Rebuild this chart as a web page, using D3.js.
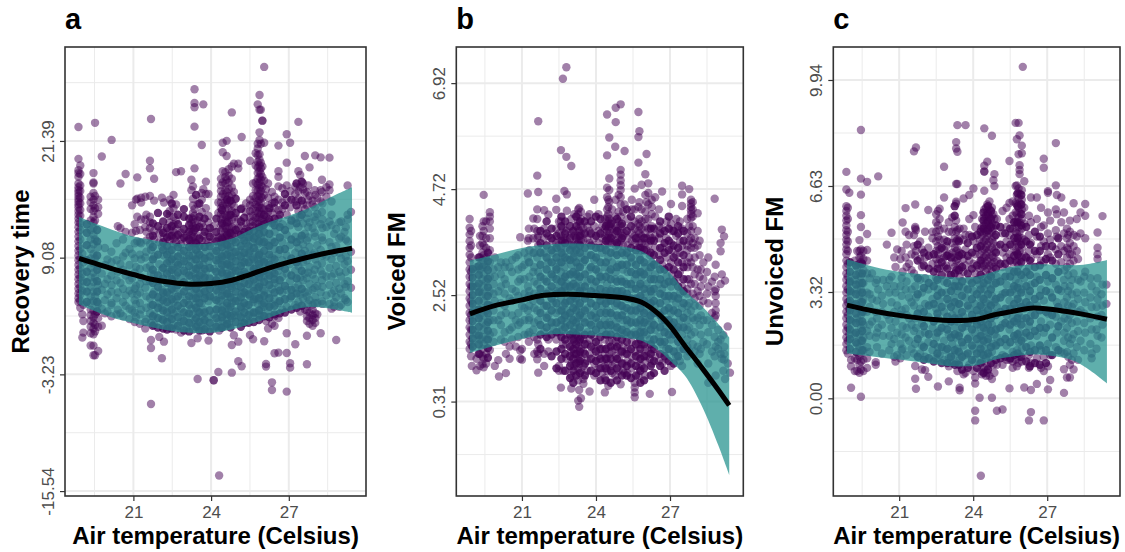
<!DOCTYPE html>
<html>
<head>
<meta charset="utf-8">
<script src="https://cdn.jsdelivr.net/npm/d3@7"></script>
<style>
    body { margin: 0; background: #fff; }
    text { font-family: "Liberation Sans", Arial, sans-serif; }
</style>
</head>
<body>
<svg id="chart" width="1125" height="552"></svg>
<script>
const xTicks = [21, 24, 27];
const xMinor = [19.5, 22.5, 25.5, 28.5];

// panel a: recovery time
const aTicks = [-15.54, -3.23, 9.08, 21.39];
const aMinor = [-9.385, 2.925, 15.235, 27.54];
const aRibbonX = [18.9, 19.5, 20.2, 21, 21.7, 22.5, 23.2, 24, 24.8, 25.5, 26.2, 27, 27.7, 28.5, 29.44];
const aUpper = [13.4, 12.7, 12.0, 11.3, 10.95, 10.6, 10.5, 10.6, 11.1, 12, 12.8, 13.5, 14.2, 15.3, 16.5];
const aMid = [9.0, 8.5, 7.9, 7.3, 6.8, 6.45, 6.28, 6.35, 6.7, 7.3, 7.95, 8.6, 9.1, 9.6, 10.08];
const aLower = [4.16, 3.45, 2.75, 2.2, 1.75, 1.35, 1.15, 1.15, 1.5, 2.05, 2.7, 3.45, 3.85, 3.75, 3.28];
const aPoints = [
    [18.88, [22.86, 19.5, 18.3, 18, 17.6, 16.9, 16.5, 16.2, 15.9, 15.6, 15.3, 15, 14.7, 14.4, 14, 13.6, 13.2, 12.8, 12.3, 11.8, 11.3, 10.8, 10.3, 9.8, 9.3, 8.8, 8.3, 7.8, 7.3, 6.8, 6.3, 5.8, 5.3, 4.8, 4.4]],
    [18.95, [18.8, 17.9, 16.7, 16.1, 15.4, 14.8, 14.1, 13.5, 12.7, 12, 11, 10, 9, 8, 7, 6, 5.2, 4.5, 3.8]],
    [19.03, [0.65, 3.1, 5.6, 7.4, 9.5]], [19.07, [1.17, 2.4, 4.1, 6.6, 8.6]],
    [19.35, [-0.18, 1.1, 1.8, 2.4, 3, 3.6, 4.3, 5, 6, 7, 8, 9, 10, 11, 12, 13, 14.2, 14.9, 15.5]],
    [19.46, [18, 17, 16.9, 15.9, 15.2, 14.6, 14, 13.4, 12.8, 12.2, 11.5, 10.5, 9.5, 8.5, 7.5, 6.5, 5.5, 4.5, 3.5, 2.8, 2.2, 1.6, 1, -0.2, -1.22]],
    [19.52, [23.3, 15.6, 14.3, 13, 11, 9, 7, 5, 3.1, 2, 1.3, -1.22]],
    [19.64, [15.2, 14.4, 13.7, 10.2, 8.2, 6.2, 4.2, 2.7, 1.8, -0.76]],
    [19.78, [19.75, 7.4, 5.7, 3.7, 1.9]], [20, [8.9, 6.8, 5.2, 3.4]], [20.16, [21.5, 8.6, 6.2, 4.3]],
    [20.4, [12.4, 7.6, 5.4, 3.6]], [20.5, [16.9, 12.2, 8.4, 6.4, 3.2]], [20.7, [17.9, 11.8, 9.6, 7.2, 5.1, 4]],
    [20.95, [14.6, 11.7, 9.5, 6.9, 5.3, 3.5]], [21.1, [15.2, 11.9, 8.1, 6.1, 4.2, 2.8]], [21.15, [17.55, 15.3, 13.4, 10.8, 5.2]],
    [21.3, [15.4, 14.9, 13.1, 10.6, 8.9, 7, 3.6]], [21.46, [15.5, 13.1, 12.3, 9.1, 5.9, 2.3, 1.6]],
    [21.64, [19.3, 18.5, 15.6, 13.4, 12.8, 12.2, 11.3, 10.5, 8.2, 6.6, 4.8, 3.2]], [21.68, [23.7, -6.35, -0.45, 0.4, 2.2, 4, 7.4, 9.9]],
    [21.8, [17.4, 15.1, 11.9, 11, 9.2, 7.3, 5.5, 3.1, 2]], [22, [11.6, 10.7, 8.4, 6.6, 4.3, 0.72]], [22.1, [15.4, 12, 10.2, 7.8, 5.7, 3.8, 2.6, -1.53]],
    [22.18, [14.9, 11.2, 9.3, 0.22, 4.9]], [22.4, [15.2, 14, 13.5, 12.8, 12, 11.4, 10.9, 9.7, 8.7, 7.6, 6.4, 5.2, 4, 2.8, 1.7]],
    [22.55, [15.7, 14.3, 13.4, 12.6, 11.8, 11.1, 10.5, 9.2, 8, 6.8, 5.6, 4.4, 3.2, 2]], [22.65, [18.1, 14.7, 13, 12.1, 11.3, 10.7, 8.6, 7.2, 5.9, 4.7, 3.4, 1.5]],
    [22.84, [18.2, 11.7, 11, 10.5, 9.5, 8.4, 7, 5.2, 3.7, 2.3, 1.17]], [23.05, [11.4, 10.8, 9, 7.5, 6, 4.6, 2.9, 1.7]],
    [23.24, [17.3, 16.2, 13.3, 12.7, 12.1, 11.5, 10.9, 10, 8.6, 7.1, 5.4, 3.7, 2.2, 0.08]], [23.3, [16.6, 15.3, 14.6, 13.8, 13.1, 12.4, 11.8, 11.2, 10.6, 9.3, 7.8, 6.3, 4.8, 3.1, 1.5]],
    [23.36, [26.84, 25.4, 24.94, 22.9, 18.5, 14.2, 13.5, 12.8, 12, 11.3, 10.7, 8.9, 7.4, 5.7, 4.1, 2.5]], [23.48, [14.7, 13, 11.4, 9.6, 8, 6.5, 4.9, 3.4, 1.9, 0.57, -3.72]],
    [23.64, [20.96, 15.9, 15.2, 13.9, 12.7, 10.9, 9.1, 7.4, 5.9, 4.3, 2.9, 1.4]], [23.7, [25.25, 16.3, 12.3, 11.4, 8.3, 6.8, 3.6, 2.2]],
    [23.8, [17.1, 15.8, 14.3, 10.9, 9.7, 7.6, 5.2, 1.7]], [23.9, [15.8, 13.5, 12.8, 11.7, 10.7, 8.7, 6.2, 4.5, 2.8, 0.33]], [24.1, [12.4, 11.1, 9.6, 7.9, 6.4, 4.9, 3.1, 1.6, -3.85, -3.85]],
    [24.28, [14.9, 13.8, 11.2, 10.2, 8.5, 7, 5.5, 3.8, 2.3, -2.98]], [24.31, [-13.9, 9, 6.1, 4.5, 1.4]],
    [24.38, [17.4, 16.7, 16.1, 15.5, 14.9, 14.3, 13.7, 13.1, 12.5, 11.9, 11.3, 10.7, 9.4, 7.8, 6.2, 4.6, 3.1, 1.7]], [24.45, [21.2, 20.2, 18.2, 17, 15.8, 14.6, 13.4, 12.2, 11, 8.8, 7.3, 5.7, 3.9, 2.4]],
    [24.55, [18.1, 17.6, 16.9, 16.2, 15.5, 14.9, 14.2, 13.6, 13, 12.4, 11.8, 11.2, 10.5, 9.6, 8.1, 6.6, 5, 3.3, 1.9]], [24.6, [21.4, 19.8, 17.3, 16, 14.7, 13.4, 12.1, 10.9, 8.7, 7.1, 5.6, 4, 2.5]],
    [24.68, [18.4, 17.7, 17, 16.3, 15.6, 14.9, 14.2, 13.5, 12.9, 12.3, 11.7, 11.1, 9.9, 8.3, 6.8, 5.3, 3.6, 2.1]], [24.8, [24.4, 18.7, 17.4, 16.5, 15.7, 14.8, 14, 13.1, 12.3, 11.5, 10.9, 9, 7.5, 5.9, 4.3, 2.7, -3.05, -0.13]],
    [24.88, [19, 16, 14.5, 13.3, 12.4, 11.6, 11, 9.6, 8, 6.3, 4.8, 3, 0.9]], [25.05, [19, 18.5, 13.1, 12.2, 11.6, 9.3, 7.7, 6.1, 4.5, 3, -1.85, 0.22]],
    [25.18, [21.8, 14.3, 12.4, 11.1, 9.9, 8.5, 7, 5.3, 3.7, 2.2, -2.38]], [25.35, [14.8, 13.9, 12.7, 12.1, 10.6, 9, 7.4, 5.6, 4, 2.6]],
    [25.5, [19.3, 15.2, 14.6, 14, 13.4, 12.8, 12.3, 11.4, 9.8, 8.2, 6.7, 5, 3.4, 0.93]], [25.62, [16.9, 15.6, 14.9, 14.2, 13.5, 12.9, 12.4, 10.7, 9.1, 7.6, 6, 4.4, 2.8, 0.47]],
    [25.72, [20.1, 18.8, 17, 16.2, 15.4, 14.7, 14, 13.3, 12.7, 11.3, 9.7, 8.1, 6.5, 4.9, 3.3]], [25.8, [25.25, 21.1, 20.6, 19.9, 19.2, 18.6, 18, 17.4, 16.8, 16.2, 15.6, 15, 14.4, 13.8, 13.2, 12.6, 10.5, 8.9, 7.4, 5.8, 4.2]],
    [25.87, [26.24, 24.69, 22.3, 21.5, 20, 19.4, 18.8, 18.2, 17.6, 17, 16.4, 15.8, 15.2, 14.6, 14, 13.4, 12.1, 9.6, 8, 6.3, 4.6, 3]], [25.92, [24.69, 21.1, 19.1, 18.5, 17.9, 17.3, 16.7, 16.1, 15.5, 14.9, 14.3, 13.7, 13.1, 11.3, 8.7, 7, 5.2, 3.6]],
    [25.98, [23.53, 23.53, 18.7, 17.6, 16.5, 15.4, 14.3, 13.2, 12.5, 10.6, 9.2, 7.6, 5.9, 4.1, 2.9]], [26.05, [29.2, 21.2, 17.2, 15.7, 14.1, 12.8, 11.1, 8.9, 7.2, 5.6, 3.9, 0.26]],
    [26.2, [16.9, 15.4, 14.6, 13.9, 12.9, 10.4, 8.5, 6.8, 5.3, 3.5, 1.6]], [26.12, [-2.13, -2.41, 16.3, 13.4, 2.4]], [26.35, [-4.07, -4.88, 16, 14.8, 13.8, 12.7, 10.9, 9.1, 7.5, 5.8, 4.2, 2.1]],
    [26.45, [15.5, 14.3, 11.8, 10, 8.1, 6.4, 4.7, 2.9, 1.9, -1.01]], [26.6, [20.9, 18.2, 17.6, 16.6, 15.2, 14.1, 13.2, 9.5, 7.7, 6, 4.3, 2.7, -0.94]],
    [26.75, [16.4, 14.9, 14.2, 12.6, 10.7, 8.8, 7.1, 5.4, 3.6]], [26.92, [22.1, 19.1, 16.7, 15.3, 13.6, 11.5, 9.3, 7.4, 5.7, 3.9, 1.1, -0.97, -5.05]],
    [27.05, [21.2, 16.1, 14.4, 12.5, 10.4, 8.4, 6.6, 4.8, -2.06, -2.52]], [27.25, [16.6, 15.8, 15, 13.2, 11.3, 9.6, 7.7, 5.9, 4.1, -0.06]],
    [27.37, [23.4, 18.2, 16.1, 15.3, 14, 12.3, 10.1, 8.2, 6.2, 4.4]], [27.44, [17.8, 16.5, 13.4, 11, 9, 7, 5.2, 3.4]],
    [27.55, [16.9, 16.3, 14.7, 12.7, 10.5, 8.6, 6.7, 4.8]], [27.62, [19.8, 15.9, 14.2, 11.6, 9.8, 7.4, 5.4, 3.6]],
    [27.7, [16, 14.6, 13.2, 10.9, 8.8, 6.9, 5, 3.5, 2.9, 2.4, -2.17, 0.85]], [27.8, [18.6, 15.6, 12.8, 10.2, 8.1, 6.3, 4.6, 3.3, 2.7, 2.1]],
    [27.92, [15.1, 14.7, 12.2, 9.4, 7.3, 5.7, 4.1, 3.6, 3, 2.5, 1.9]], [28.02, [19.87, 15.7, 13, 11.3, 8.9, 6.8, 4.9, 3.2, 2.7, 2.2]], [28.1, [15.4, 13.7, 10.4, 8.3, 6.1, 4.3, 3.1]],
    [28.23, [19.66, 16.2, 15, 12.6, 9.9, 7.7, 5.4, 1.1]], [28.28, [17.3, 16, 13.9, 11.2, 8.5, 6.7, 4.5]], [28.45, [16.5, 15.5, 12.3, 9.2, 7.1, 5.1]],
    [28.57, [19.63, 16.8, 16.2, 12.9, 10.7, 8, 6.2, 4.2]], [28.75, [11.6, 9.6, 7.4, 5.6, 4.4, 3.9]], [28.83, [12.1, 10.3, 8.2, 6.4, 4.9, 0.4]],
    [29.02, [12.9, 11.3, 9, 7.1, 5.3, 4.1]], [29.15, [11.8, 8.4, 6.3, 4.8]], [29.27, [16.7, 13.6, 13.1, 10.8, 8.7, 6.6, 4.4]], [29.4, [13.9, 9.7, 7.8, 5.9]]
];
// the packed middle of panel a, inside and just above the ribbon
const aDense = [
    [19.2, [4.4, 5.5, 6.5, 7.6, 8.8, 10.4, 11.7, 12.6]], [19.6, [3.4, 4.4, 5.5, 6.6, 7.8, 9.3, 10.8, 12]], [19.9, [3.2, 4.6, 6.3, 8.3, 10.1]],
    [20.15, [2.9, 4.1, 5.5, 7.2, 9.7]], [20.35, [3.1, 4.8, 6.7, 8.8, 10.6]], [20.6, [2.9, 4.4, 5.8, 7.8, 9.2, 11]], [20.85, [2.6, 3.7, 5.6, 6.7, 8.3, 10]],
    [21.05, [2.3, 3.3, 4.6, 5.8, 7.5, 9, 10.6, 12.6]], [21.25, [2.1, 3.1, 4.3, 5.4, 6.3, 7.9, 9.4, 10.7, 12]], [21.5, [2.6, 3.8, 5, 6.6, 8, 9.7, 10.9, 11.8, 13.6]],
    [21.75, [1.9, 2.9, 4.1, 5.2, 6.4, 7.8, 8.9, 10.2, 11.4, 12.7]], [21.95, [1.7, 2.7, 3.8, 4.9, 6, 7.2, 9.4, 12.4, 13.8]], [22.15, [1.6, 2.5, 3.5, 4.6, 5.4, 6.9, 8, 9.9, 10.7, 11.7, 12.9]],
    [22.3, [1.5, 2.3, 3.3, 4.4, 5.4, 6.4, 7.4, 8.5, 9.4, 10.3, 11.2, 12.2, 13.7]], [22.48, [1.6, 2.6, 3.6, 4.7, 5.8, 6.8, 7.8, 8.9, 9.9, 11.4, 12.4, 14.8]],
    [22.72, [1.9, 2.8, 4, 5, 6.2, 7.5, 8.3, 9.2, 10.2, 11.5, 12.6, 13.6]], [22.95, [1.4, 2.4, 3.3, 4.3, 5.5, 6.5, 7.7, 8.7, 9.8, 11.2, 12.1, 13.4, 14.2]],
    [23.15, [1.3, 2.2, 3.2, 4.1, 5, 6.1, 7.2, 8.2, 9.3, 10.2, 11, 11.8, 12.5, 13.2]], [23.42, [1.8, 2.7, 3.8, 4.8, 5.8, 6.9, 7.9, 8.9, 9.9, 10.6, 12.2, 15.7]],
    [23.55, [1.4, 2.3, 3.3, 4.3, 5.3, 6.3, 7.2, 8.3, 9.4, 10.3, 11.1, 12.3, 13.4, 14.8]], [23.75, [1.5, 2.5, 3.3, 4.8, 5.5, 7, 7.9, 9, 10.2, 11.8, 13.2]], [23.95, [1.3, 2.2, 3.5, 5, 5.8, 6.9, 8, 9.2, 10.3, 11.3, 12.2]],
    [24.2, [1.8, 2.7, 3.6, 4.6, 5.7, 6.7, 7.6, 8.8, 9.8, 10.8, 11.8, 13.2]], [24.42, [1.7, 2.8, 3.5, 5.1, 6, 7.5, 8.3, 9.2, 10.2, 11.1, 12.7, 14.1]], [24.62, [2.1, 3.1, 4.3, 5.3, 6.3, 7.4, 8.4, 9.4, 10.4, 11.5, 12.8, 15.2]],
    [24.75, [1.7, 2.9, 3.9, 4.9, 6.1, 7.2, 8.2, 9.2, 10.2, 11.7, 13.6, 15.1]], [24.95, [2.3, 3.4, 4.5, 5.5, 6.6, 7.7, 8.7, 9.7, 10.7, 12, 13.8, 15.3]], [25.15, [1.8, 2.8, 3.9, 4.9, 6, 7.2, 8.2, 9.2, 10.3, 11.5, 12.9, 14.2]],
    [25.28, [2.2, 3.3, 4.3, 5.4, 6.4, 7.6, 8.6, 9.6, 10.9, 11.8, 13.3]], [25.45, [2.2, 3, 4.1, 5.2, 6.3, 7.2, 8.6, 9.5, 10.3, 11.2, 11.9]], [25.65, [2.3, 3.3, 4.7, 5.6, 6.8, 7.9, 8.9, 10.1, 11.1, 11.9]],
    [25.85, [2.5, 3.5, 4.8, 6, 7.1, 8.4, 9.4, 10.8, 11.6, 12.3]], [26.05, [2.9, 4.3, 5.1, 6.5, 7.7, 8.6, 9.8, 10.7, 11.8, 12.6, 13.6]], [26.25, [2.8, 3.9, 4.8, 6.2, 7.2, 8.3, 9.4, 10.3, 11.6, 13.1, 14.3]],
    [26.45, [3.1, 4, 5.4, 6.8, 7.4, 8.9, 10.7, 12.5, 13.2, 14.9]], [26.65, [3.2, 4.5, 5.6, 6.7, 8.2, 9.9, 11.2, 12.3, 13.6]], [26.85, [3.3, 4.7, 6.1, 7.9, 10, 12, 14.6, 15.8]],
    [27.1, [3.6, 5, 5.7, 7.2, 9, 11, 13, 15.2]], [27.3, [3.8, 5.3, 6.9, 8.6, 10.7, 12.7, 14.6, 16.9]], [27.5, [4, 5.8, 7.7, 9.5, 11.4, 13.6, 15.1, 17.1]],
    [27.75, [4.2, 5.5, 7.5, 9.4, 11.2, 12.3, 13.8, 15.2, 16.7]], [28, [4.3, 5.9, 7.8, 9.6, 11.7, 13.4, 14.4, 16.2]], [28.3, [4.2, 6, 7.3, 9.3, 10.9, 12.2, 13.1, 14.8]],
    [28.65, [3.7, 5.3, 7.1, 8.9, 10.2, 12.5, 13.6, 15]], [28.95, [3.9, 5.8, 7.6, 9.6, 11.1, 12.8]], [29.2, [4.6, 6, 7.6, 9.2, 11, 12.3]]
];

// panel b: voiced FM
const bTicks = [0.31, 2.52, 4.72, 6.92];
const bMinor = [-0.79, 1.415, 3.62, 5.82];
const bRibbonX = [18.89, 19.9, 21, 21.8, 22.88, 23.96, 25.18, 25.85, 26.53, 27, 27.6, 28.28, 28.96, 29.4];
const bUpper = [3.24, 3.36, 3.5, 3.56, 3.59, 3.57, 3.52, 3.43, 3.19, 2.98, 2.61, 2.3, 1.92, 1.64];
const bMid = [2.13, 2.3, 2.42, 2.51, 2.54, 2.51, 2.46, 2.37, 2.13, 1.88, 1.47, 1.02, 0.55, 0.23];
const bLower = [1.32, 1.47, 1.61, 1.69, 1.71, 1.68, 1.63, 1.57, 1.37, 1.16, 0.85, 0.23, -0.6, -1.21];
const bPoints = [
    [18.88, [4.1, 3.92, 3.78, 3.64, 3.5, 3.36, 3.2, 3.05, 2.9, 2.75, 2.6, 2.45, 2.3, 2.15, 2, 1.85, 1.7, 1.55, 1.4]],
    [18.94, [3.85, 3.55, 3.3, 3, 2.7, 2.4, 2.1, 1.8, 1.5, 1.25]],
    [18.97, [1.05]], [19.16, [0.96, 1.2, 1.7, 2.2, 2.7, 3.1]], [19.3, [3.75, 3.55, 3.3, 3.05, 2.6, 2.1, 1.6, 1.3, 1.05]],
    [19.4, [3.95, 3.75, 3.6, 3.4, 3.25, 3.1, 2.85, 2.55, 2.25, 1.95, 1.65, 1.4, 1.25, 1.09]], [19.45, [4.6, 4.05, 3.85, 3.55, 3.35, 3.15, 2.95, 2.7, 2.4, 2.1, 1.8, 1.5, 1.2, 1.02]],
    [19.55, [4.05, 3.7, 3.5, 3.3, 3.1, 2.8, 2.5, 2.2, 1.9, 1.6, 1.3, 1.1]], [19.7, [4.24, 4.15, 4.05, 3.9, 3.7, 3.45, 3.2, 2.9, 2.6, 2.3, 2, 1.7, 1.38]],
    [19.9, [1.05, 2.4, 2.9, 3.3]], [20.04, [1.17, 2, 2.6, 3.1]], [20.07, [0.83]], [20.35, [0.9, 1.3, 2.15, 2.75, 3.2]],
    [20.5, [1.2, 1.45, 1.8, 2.45, 3.1]], [20.75, [1.45, 2, 2.6, 3.3]], [20.93, [3.72, 1.37, 1.2, 1.95, 2.85]], [21, [1.18, 1.4, 2.3, 3.1]],
    [21.24, [4.63, 3.65, 3.3, 2.7, 2.2, 1.7]], [21.28, [3.9, 3.7, 3.2, 2.5, 2, 1.55]], [21.46, [4.11, 3.7, 3.4, 3, 2.4, 1.8]],
    [21.62, [5, 4.3, 4.1, 3.85, 3.7, 3.3, 2.75, 2.2, 1.6, 1.35, 1.19]], [21.66, [6.13, 4.66, 3.75, 3.55, 3, 2.5, 2, 1.5, 1.3, 0.91]],
    [21.9, [4.28, 3.9, 3.7, 3.4, 2.85, 2.3, 1.75, 1.05, 1.3]], [22.07, [4.19, 3.75, 3.2, 2.6, 2.1, 1.6, 1.35]],
    [22.25, [3.65, 3.4, 2.9, 2.35, 1.85]], [22.39, [4.52, 4.29, 3.9, 3.6, 3.1, 2.6, 2.15, 1.6]], [22.5, [4.05, 3.8, 3.55, 3.2, 2.7, 2.2, 1.75, 1.05, 0.95]],
    [22.58, [5.53, 4.05, 3.75, 3.5, 3, 2.45, 1.9, 0.6]], [22.66, [7.01, 3.9, 3.65, 3.35, 2.85, 2.3, 1.8, 1.5, 0.95]],
    [22.72, [4.68, 3.7, 3.1, 2.6, 2.05]], [22.8, [7.25, 5.39, 3.85, 3.5, 2.95, 2.4, 1.7, 1.5, 1.2]], [22.82, [4.61, 4.27, 3.65, 3.25, 2.75, 2.2, 1.95]],
    [23, [5.2, 4.1, 3.8, 3.55, 3.15, 2.6, 2.05, 1.6, 1.35, 1.1, 0.85, 0.58]], [23.12, [4.2, 3.75, 3.4, 2.9, 2.35, 1.85, 1.55, 1.3, 1.05]],
    [23.28, [4.3, 4.2, 4.05, 3.9, 3.75, 3.6, 3.1, 2.55, 2.05, 1.65, 1.45, 1.2, 1, 0.75, 0.33]], [23.32, [0.2, 4.33, 3.85, 3.65, 2.85, 2.3, 1.8, 1.55, 1.3, 1.1, 0.55]],
    [23.39, [4.25, 4.1, 3.95, 3.8, 3.65, 3.3, 2.7, 2.15, 1.65, 1.4, 1.2, 0.95, 0.38]], [23.49, [3.9, 3.65, 3.2, 2.6, 2.05, 1.6, 1.35, 1.05, 0.78, 0.68]],
    [23.65, [4.15, 3.95, 3.7, 3.35, 2.8, 2.25, 1.75, 1.5, 1.15, 0.95]], [23.74, [4.2, 3.85, 3.6, 3.05, 2.5, 1.95, 1.6, 1.3, 0.52]],
    [23.93, [4.5, 3.95, 3.7, 3.25, 2.7, 2.15, 1.65, 1.4, 1.1, 0.85]], [24.1, [4.2, 3.85, 3.6, 3, 2.5, 1.95, 1.5, 1.25, 1]],
    [24.25, [3.95, 3.7, 3.4, 2.85, 2.3, 1.8, 1.4, 1.15, 0.9]], [24.36, [4.1, 3.9, 3.75, 3.55, 3.1, 2.55, 2, 1.6, 1.3, 1.05, 0.8, 0.5]],
    [24.45, [6.27, 5.42, 4.75, 4.55, 4.3, 4.15, 4, 3.85, 3.7, 2.75, 2.2, 1.7, 1.2, 0.95]], [24.5, [4.5, 4.35, 4.2, 4.05, 3.9, 3.75, 3.6, 3.3, 2.4, 1.85, 1.45, 1.1, 0.64]],
    [24.54, [5.79, 4.94, 4.7, 4.45, 4.1, 3.95, 3.8, 3.65, 3, 2.5, 1.95, 1.55, 1.3]], [24.65, [4.3, 4.05, 3.9, 3.75, 3.6, 3.2, 2.65, 2.1, 1.6, 1.35, 1.05, 0.9]],
    [24.78, [5.6, 4.15, 3.95, 3.8, 3.65, 3.4, 2.85, 2.3, 1.8, 1.4, 1.1, 0.85]], [24.8, [6.41, 6.11, 4.5, 3.9, 3.55, 3, 2.5, 1.95, 1.55, 1.25]],
    [24.92, [4.6, 4.25, 4.05, 3.85, 3.7, 3.55, 3.15, 2.6, 2.05, 1.5, 1.2, 0.95]], [25, [6.48, 5.12, 5.02, 4.9, 4.8, 4.7, 4.55, 4.4, 4.15, 3.95, 3.8, 3.65, 2.85, 2.3, 1.75, 1.35, 0.67]],
    [25.1, [4.25, 3.95, 3.75, 3.55, 3.05, 2.5, 2, 1.45, 1.1, 0.95]], [25.16, [5.51, 4.4, 3.8, 3.35, 2.8, 2.2, 1.7, 1.3, 0.9]], [25.28, [4.1, 3.7, 3.55, 3, 2.45, 1.9, 1.4, 1.15, 0.9]],
    [25.45, [4.5, 4.3, 3.8, 3.65, 3.2, 2.65, 2.1, 1.55, 1.25, 1]], [25.57, [4.73, 4.3, 4.05, 3.9, 3.75, 3.6, 2.85, 2.3, 1.75, 1.35, 0.7, 0.6, 0.5, 0.4]],
    [25.72, [6.32, 5.8, 5.27, 4.35, 4, 3.85, 3.7, 3.5, 3, 2.45, 1.9, 1.5, 1.15, 0.85]], [25.76, [5.92, 4.45, 4.1, 3.95, 3.8, 3.6, 3.3, 2.7, 2.15, 1.65, 1.3, 1]],
    [25.85, [4.81, 4.3, 4.05, 3.9, 3.75, 3.6, 3.45, 2.9, 2.35, 1.85, 1.5, 1.05]], [26, [5.03, 4.6, 4.25, 4.1, 3.95, 3.8, 3.6, 3.1, 2.55, 2, 1.4, 1.15, 0.85]],
    [26.05, [5.45, 4.45, 3.7, 3.45, 2.75, 2.2, 1.7, 1.25]], [26.12, [4.84, 4.64, 4.4, 4.1, 3.9, 3.55, 3, 2.4, 1.9, 1.35]], [26.18, [3.75, 3.35, 2.65, 2.05, 1.6, 1.2, 0.47]],
    [26.26, [4.5, 4.35, 4.2, 3.95, 3.7, 3.2, 2.55, 1.95, 1.4, 1.1]], [26.4, [4.55, 4.15, 3.75, 3.5, 2.95, 2.3, 1.8, 1.25]], [26.55, [4.3, 3.95, 3.7, 3.35, 2.75, 2.15, 1.65, 1.15]],
    [26.68, [4.67, 3.9, 3.5, 3.15, 2.65, 2, 1.5, 1.1]], [26.85, [4.05, 3.7, 3.3, 2.9, 2.4, 1.85, 1.4, 1.2]], [27.04, [4.41, 4, 3.6, 3.2, 2.7, 2.15, 1.6, 1.05]], [27.08, [0.51, 3.85, 3.45, 2.95, 2.45, 1.9]],
    [27.25, [4.1, 3.75, 3.35, 2.85, 2.35, 1.8, 1.25]], [27.4, [4.05, 3.65, 3.4, 3, 2.55, 2, 1.4, 1.15]], [27.49, [4.79, 4.61, 4.37, 3.9, 3.55, 3.2, 2.7, 2.25, 1.7, 1.05]],
    [27.7, [4.1, 3.8, 3.45, 3.1, 2.65, 2.15, 1.6, 1.25]], [27.78, [4.72, 3.95, 3.65, 3.3, 2.85, 2.35, 1.85, 1.35]],
    [27.85, [4.5, 4.42, 4.35, 4.28, 4.2, 4.12, 3.85, 3.7, 3.5, 3.2, 2.75, 2.2, 1.7]], [27.92, [4.45, 4.3, 4.15, 3.95, 3.6, 3.1, 2.55, 2.05, 1.5]],
    [28.12, [4.22, 3.85, 3.55, 3.05, 2.6, 2.05, 1.45, 1.1]], [28.2, [3.65, 3.35, 2.9, 2.5, 2.3, 1.9, 1.3]], [28.35, [3.2, 2.85, 2.4, 2, 1.55]],
    [28.55, [3.3, 2.7, 2.35, 1.75, 1.1, 0.7]], [28.81, [4.52, 2.9, 2.6, 2.05, 1.65, 1.25]], [28.85, [3.15, 2.64, 2.5, 2.35, 2.2, 2.1, 1.45, 0.85]],
    [29.05, [3.6, 3.43, 2.75, 1.6, 1.3]], [29.1, [3.88, 2.95, 1.2]], [29.19, [3.74, 1.18]], [29.16, [1.69, 0.95]], [29.23, [2.82, 0.78]], [29.34, [1.87, 1.1]], [29.43, [0.91]]
];
// the packed middle of panel b, inside the ribbon and in the clouds above and below it
const bDense = [
    [19, [1.45, 1.62, 1.8, 1.98, 2.16, 2.34, 2.52, 2.7, 2.88, 3.06]], [19.25, [1.3, 1.5, 1.68, 1.86, 2.04, 2.22, 2.4, 2.58, 2.76, 2.94, 3.12, 3.3]], [19.62, [1.22, 1.42, 1.6, 1.78, 1.96, 2.14, 2.32, 2.5, 2.68, 2.86, 3.04, 3.22, 3.4]],
    [19.85, [1.55, 1.75, 2, 2.2, 2.55, 2.75, 3.05]], [20.15, [1.6, 1.9, 2.1, 2.35, 2.7, 2.95, 3.2]], [20.3, [1.55, 1.75, 2.3, 2.55, 2.85, 3.1]], [20.6, [1.6, 1.85, 2.1, 2.4, 2.65, 3, 3.25]],
    [20.85, [1.65, 1.9, 2.15, 2.5, 2.8, 3.05, 3.35]], [21.1, [1.7, 2, 2.25, 2.55, 2.85, 3.15, 3.4]], [21.3, [1.75, 2.05, 2.3, 2.6, 2.9, 3.2, 3.45]], [21.5, [1.3, 1.65, 1.95, 2.25, 2.55, 2.8, 3.1, 3.4, 3.9]],
    [21.75, [1.4, 1.7, 1.9, 2.15, 2.4, 2.65, 2.9, 3.15, 3.4, 3.6, 3.85]], [22, [1.65, 1.85, 2.05, 2.3, 2.55, 2.8, 3.05, 3.3, 3.55, 3.8, 4.05]], [22.2, [1.25, 1.7, 1.95, 2.2, 2.45, 2.7, 2.95, 3.2, 3.45, 3.7, 3.9]],
    [22.4, [1, 1.35, 1.75, 1.95, 2.35, 2.55, 2.85, 3.05, 3.3, 3.5, 3.75]], [22.6, [1.2, 1.4, 1.65, 2, 2.2, 2.6, 2.8, 3.2, 3.4, 3.65, 3.95, 4.15]], [22.75, [0.95, 1.3, 1.6, 1.85, 2.1, 2.35, 2.7, 2.9, 3.3, 3.6, 3.8, 4.05]],
    [22.95, [0.8, 1.05, 1.25, 1.45, 1.7, 1.9, 2.15, 2.4, 2.7, 2.95, 3.25, 3.45, 3.7, 3.95]], [23.08, [0.7, 0.95, 1.2, 1.4, 1.6, 1.75, 2, 2.25, 2.5, 2.75, 3, 3.3, 3.55, 3.85]], [23.2, [0.85, 1.1, 1.3, 1.5, 1.7, 1.95, 2.2, 2.45, 2.7, 2.95, 3.2, 3.45, 3.7, 3.95, 4.15]],
    [23.35, [0.9, 1.15, 1.35, 1.6, 1.85, 2.1, 2.35, 2.6, 2.9, 3.1, 3.4, 3.55, 3.75, 4.05]], [23.55, [0.85, 1.1, 1.3, 1.5, 1.7, 1.95, 2.2, 2.45, 2.7, 2.95, 3.25, 3.5, 3.8, 4.05]], [23.8, [0.95, 1.2, 1.45, 1.7, 1.9, 2.1, 2.35, 2.6, 2.85, 3.1, 3.35, 3.55, 3.8, 4.05]],
    [24, [0.9, 1.15, 1.35, 1.55, 1.8, 2.05, 2.3, 2.55, 2.8, 3.05, 3.3, 3.5, 3.75, 4.15]], [24.18, [0.75, 1, 1.2, 1.4, 1.65, 1.9, 2.15, 2.4, 2.65, 2.9, 3.2, 3.5, 3.8, 4.1]], [24.4, [0.75, 1, 1.2, 1.4, 1.7, 1.9, 2.15, 2.35, 2.6, 2.9, 3.2, 3.45, 3.65, 3.95]],
    [24.6, [0.7, 0.95, 1.2, 1.45, 1.7, 1.9, 2.15, 2.4, 2.6, 2.85, 3.05, 3.4, 3.7, 4]], [24.85, [0.75, 1, 1.2, 1.45, 1.65, 1.85, 2.1, 2.35, 2.6, 2.8, 3.1, 3.35, 3.6, 3.85, 4.1]], [25.05, [0.85, 1.1, 1.35, 1.6, 1.8, 2.1, 2.3, 2.6, 2.8, 3.15, 3.4, 3.7, 4]],
    [25.25, [0.85, 1.05, 1.3, 1.55, 1.75, 2, 2.25, 2.55, 2.75, 3.15, 3.4, 3.85, 4.3]], [25.42, [0.8, 1.1, 1.4, 1.7, 1.95, 2.2, 2.45, 2.75, 3, 3.3, 3.5, 3.95, 4.15]], [25.62, [0.85, 1.05, 1.25, 1.5, 1.7, 1.95, 2.2, 2.45, 2.65, 2.95, 3.15, 3.45, 3.7]],
    [25.8, [0.7, 0.95, 1.2, 1.4, 1.6, 1.75, 2, 2.25, 2.5, 2.75, 3, 3.25, 3.5]], [25.95, [0.75, 1, 1.25, 1.5, 1.75, 1.95, 2.15, 2.4, 2.65, 2.95, 3.2, 3.45, 3.7]], [26.22, [0.85, 1.05, 1.3, 1.5, 1.8, 2.1, 2.35, 2.6, 2.85, 3.1, 3.4, 3.65, 3.9]],
    [26.35, [0.9, 1.15, 1.4, 1.6, 1.9, 2.15, 2.4, 2.65, 2.85, 3.15, 3.35, 3.65, 3.9]], [26.6, [1.05, 1.3, 1.55, 1.85, 2.1, 2.35, 2.55, 2.85, 3.05, 3.25, 3.5, 3.8, 4.05]], [26.78, [0.95, 1.25, 1.55, 1.75, 2, 2.2, 2.5, 2.75, 3.05, 3.4, 3.6, 3.85]],
    [26.95, [1.15, 1.4, 1.7, 2, 2.25, 2.5, 2.8, 3.1, 3.45, 3.65, 3.9, 4.15]], [27.15, [1.1, 1.35, 1.7, 1.95, 2.2, 2.5, 2.8, 3.05, 3.3, 3.55, 3.85]], [27.33, [1.25, 1.55, 1.85, 2.15, 2.45, 2.7, 2.95, 3.2, 3.5, 3.8, 3.95]],
    [27.55, [1.4, 1.85, 2.05, 2.35, 2.6, 2.85, 3.1, 3.35, 3.65, 3.85]], [27.7, [1.45, 1.8, 2, 2.3, 2.55, 2.85, 3.2, 3.55]], [28, [1.35, 1.75, 2, 2.3, 2.45, 2.75, 2.95, 3.3, 3.5, 3.7]], [28.25, [1.4, 1.7, 2.1, 2.7, 3.05]], [28.5, [1.5, 2, 2.55, 3]],
    [28.7, [1.35, 1.9, 2.15, 2.8]], [28.95, [1.55, 1.8, 1.4]], [29.2, [1.3, 1.45]]
];

// panel c: unvoiced FM
const cTicks = [0, 3.32, 6.63, 9.94];
const cMinor = [-1.66, 1.66, 4.975, 8.285];
const cRibbonX = [18.88, 20, 21, 22.26, 23.2, 24.15, 24.82, 25.5, 26.45, 27.8, 28.47, 29.42];
const cUpper = [4.34, 4.1, 3.95, 3.85, 3.78, 3.8, 3.95, 4.1, 4.18, 4.16, 4.17, 4.32];
const cMid = [2.91, 2.72, 2.59, 2.47, 2.43, 2.47, 2.6, 2.7, 2.82, 2.71, 2.62, 2.47];
const cLower = [1.4, 1.3, 1.21, 1.09, 1, 1.03, 1.2, 1.29, 1.37, 1.24, 1.01, 0.47];
const cPoints = [
    [18.86, [7.07, 6.52, 6, 5.85, 5.7, 5.55, 5.4, 5.25, 5.1, 4.95, 4.8, 4.65, 4.5, 4.3, 4.1, 3.9, 3.7, 3.5, 3.3, 3.1, 2.9, 2.7, 2.5, 2.3, 2.1, 1.9, 1.7, 1.5]],
    [18.92, [5.95, 5.6, 5.2, 4.9, 4.6, 4.2, 3.8, 3.4, 3, 2.6, 2.2, 1.8, 1.4]],
    [18.98, [6.42, 3.6, 2.8, 2]], [19.05, [0.33, 1.2, 1, 3.3, 2.4]], [19.2, [1.25, 0.85, 3.7, 2.9, 2, 4.3]], [19.3, [0.85, 1.2, 4.6, 4.1, 3.4, 2.5, 1.7]],
    [19.39, [4.94, 4.6, 4.4, 4.2, 3.9, 3.6, 3.2, 2.8, 2.4, 2, 1.6, 1.3, 1.05, 0.8]], [19.45, [8.38, 6.86, 6.36, 5.72, 5.35, 4.65, 4.45, 4.25, 3.8, 3.4, 3, 2.6, 2.2, 1.8, 1.4, 1.15, 0.9, 0.05]],
    [19.55, [4.6, 4.35, 4, 3.6, 3.1, 2.7, 2.3, 1.9, 1.5, 1.2, 0.85]], [19.7, [6.76, 5.13, 4.63, 4.3, 3.9, 3.3, 2.7, 2.1, 1.6, 1.25, 0.95]],
    [19.9, [3.9, 3.1, 2.4]], [20.05, [1.13, 1.05, 3.6, 2.7, 1.9]], [20.15, [6.93, 3.4, 2.2]], [20.35, [3.7, 2.95, 1.95]], [20.5, [4.8, 3.5, 2.6]], [20.69, [5.17, 3.8, 3, 2.2, 1.7]],
    [20.85, [1.15, 2.4, 3.3, 4.1]], [20.92, [4.65, 1.35, 2.05, 2.9]], [21.05, [1.25, 1.7, 2.6, 3.5, 4.35]], [21.14, [5.49, 3.95, 2.25, 1.55]], [21.26, [5.94, 5.2, 4.4, 3.4, 2.8, 1.9]],
    [21.4, [5.1, 4.2, 3.15, 2.5, 1.8]], [21.6, [7.71, 5.1, 4.75, 3.9, 2.9, 2.1, 1.4]], [21.65, [6.05, 5.35, 5.3, 4.45, 3.5, 2.5, 1.7, 1.01, 0.61]], [21.68, [7.83, 5.25, 4.6, 3.15, 2.2, 0.3]],
    [21.85, [4.9, 4.35, 3.7, 2.8, 2, 1.4]], [21.92, [4.65, 4.1, 3.3, 2.35, 1.65, 0.9]], [22.05, [5.2, 4.4, 3.75, 2.95, 2.05, 1.3, 0.88]], [22.18, [5.88, 0.67, 4.7, 3.4, 2.55, 1.75]],
    [22.35, [5.2, 5, 4.2, 3.1, 2.2, 1.5]], [22.5, [5.75, 5.5, 5.2, 4.9, 4.6, 4.35, 3.75, 2.8, 1.9, 1.25]], [22.57, [5.85, 5.4, 5.05, 4.75, 4.5, 4.2, 3.4, 2.5, 1.6, 0.37]],
    [22.64, [5.92, 5.6, 5.25, 4.95, 4.65, 4.35, 4.05, 3.05, 2.1, 1.35]], [22.82, [7.23, 6.27, 5.3, 4.95, 4.65, 4.4, 4.1, 3.65, 2.7, 1.8, 1.2]], [22.9, [4.75, 4.45, 4.15, 3.3, 2.35, 1.5]],
    [23.01, [5.5, 5.2, 4.5, 3.85, 2.95, 2, 1.25, 0.53, 1]], [23.15, [5.65, 5.2, 4.85, 4.55, 4.25, 3.5, 2.6, 1.7, 1.1]], [23.25, [5.35, 5, 4.7, 4.4, 4.1, 3.15, 2.25, 1.35]],
    [23.31, [8, 7.8, 6.69, 6.14, 6.08, 5.55, 5.2, 4.9, 4.6, 4.3, 4, 3.65, 2.75, 1.9, 1.1]], [23.36, [8.53, 7.7, 6.69, 5.25, 4.95, 4.65, 4.35, 4.05, 3.35, 2.4, 1.55, 0.85]],
    [23.45, [5.3, 5, 4.55, 4.15, 3.8, 2.95, 2.05, 1.2, 0.33, 0.25]], [23.61, [6.24, 5.3, 4.95, 4.35, 3.95, 3.45, 2.55, 1.65, 0.75]], [23.69, [8.53, 5.1, 4.65, 4.15, 3.15, 2.25, 1.35, 0.8]],
    [23.84, [6.35, 5.6, 5.1, 4.3, 3.7, 2.8, 1.9, 1.05]], [24.01, [6.55, 5.72, 4.9, 4.2, 3.35, 2.45, 1.55, 0.85]], [24.08, [-0.69, -0.39, 0.46, 5.35, 4.5, 3.9, 2.95, 2.05, 1.2, 0.65]],
    [24.26, [4.95, 4.5, 4.05, 3.55, 2.6, 1.7, 0.02]], [24.31, [-2.42, 5.3, 4.2, 3.15, 2.2, 1.4, 0.85]], [24.36, [5.6, 5.35, 5.1, 4.85, 4.6, 4.35, 4.1, 3.8, 2.85, 1.95, 1.15, 0.75]],
    [24.45, [8.43, 7.26, 7.08, 7.08, 6.48, 5.9, 5.65, 5.4, 5.15, 4.9, 4.65, 4.4, 4.15, 3.4, 2.45, 1.55, 0.95]], [24.52, [5.95, 5.7, 5.45, 5.2, 4.95, 4.7, 4.45, 4.2, 3.95, 3, 2.1, 1.25, 0.7]],
    [24.57, [7.39, 6.05, 5.8, 5.55, 5.3, 5.05, 4.8, 4.55, 4.3, 4.05, 3.55, 2.6, 1.75, 1, 0.8]], [24.66, [6.15, 5.9, 5.65, 5.4, 5.15, 4.9, 4.65, 4.4, 4.15, 3.85, 2.95, 2.05, 1.3, 0.7]],
    [24.76, [8.2, 5.95, 5.7, 5.45, 5.2, 4.95, 4.7, 4.45, 4.2, 3.95, 3.2, 2.3, 1.45, 0.02, 0.6]], [24.82, [6.81, 5.75, 5.3, 4.85, 4.4, 4.1, 3.55, 2.65, 1.7, 1.05]], [24.86, [7, 6.63, 5.6, 5.05, 4.6, 4.25, 3, 2, 0.8]],
    [24.96, [5.6, 4.75, 4.3, 3.8, 2.85, 1.9, 1.05, -0.39]], [25.19, [5.85, 5.15, 4.55, 4.1, 3.25, 2.3, 1.35, 1.05, -0.35]], [25.35, [5.95, 5.35, 4.9, 4.4, 3.55, 2.6, 1.65, 1.2]],
    [25.47, [7.41, 6.1, 5.6, 5.1, 4.5, 4, 3.05, 2.15, 1.2, 0.31]], [25.6, [6.15, 5.7, 5.3, 4.75, 4.25, 3.4, 2.5, 1.45, 1.15, 0.95]], [25.72, [8.6, 6.63, 6.1, 5.8, 5.5, 5.2, 4.9, 4.6, 4.3, 3.7, 2.8, 1.85, 1.2]],
    [25.77, [8.09, 6.65, 6.35, 6.05, 5.75, 5.45, 5.15, 4.85, 4.55, 4.25, 3.25, 2.35, 1.5, 1]], [25.84, [8.6, 7.62, 6.55, 6.25, 5.95, 5.65, 5.35, 5.05, 4.75, 4.45, 4.15, 3.6, 2.65, 1.75, 1.1]],
    [25.88, [8.21, 7.28, 7.13, 7, 6.4, 6.1, 5.8, 5.5, 5.2, 4.9, 4.6, 4.3, 3, 2.05, 1.3]], [25.97, [7.65, 7.89, 6.5, 6.2, 5.9, 5.6, 5.3, 5, 4.7, 4.4, 3.4, 2.5, 1.55, 1.15]],
    [26.01, [10.35]], [26.07, [6.78, 5.95, 5.45, 4.95, 4.45, 3.75, 2.8, 1.9, 0.34]], [26.26, [-0.69, 5.7, 5.1, 4.6, 4.1, 3.2, 2.25, 1.35, 0.95]], [26.34, [-0.43, 6.27, 5.5, 4.85, 4.35, 3.55, 2.6, 1.65, 1.1, 0.26]],
    [26.58, [6.27, 5.6, 5.05, 4.5, 3.8, 2.9, 1.95, 1.25, 0.45]], [26.75, [5.95, 5.35, 4.75, 4.3, 3.4, 2.4, 1.5, 0.95]], [26.86, [7.2, 7.48, -0.69, 5.4, 4.9, 4.25, 3.05, 2.05, 1.3, 0.85]],
    [27.03, [6.47, 6.42, 5.8, 5.15, 4.5, 3.65, 2.65, 1.7, 1, 0.28]], [27.12, [5.55, 4.95, 4.4, 3.3, 2.3, 1.35, 0.57]], [27.35, [7.97, 6.65, 5.9, 5.25, 4.65, 4.2, 3.55, 2.55, 1.6]],
    [27.39, [6.35, 5.75, 5.05, 3, 2.05]], [27.57, [6.27, 5.5, 4.75, 4.25, 3.35, 2.4, 1.45]], [27.68, [5.8, 5.15, 4.6, 3.7, 2.75, 1.8, 0.91, 0.17]], [27.8, [5.3, 5, 4.7, 4.4, 4.1, 3.15, 2.2, 1.45, 0.65]],
    [27.92, [5.55, 5.2, 4.85, 4.5, 4.2, 3.5, 2.6, 1.7, 1.05, 0.65]], [28.07, [6.09, 5.1, 4.75, 4.3, 3.9, 2.95, 2, 1.4, 0.9]], [28.2, [5.6, 5.05, 4.6, 3.3, 2.4, 1.6]], [28.35, [5.8, 5.15, 3.65, 2.75, 1.8]],
    [28.54, [6.07, 5.7, 5, 3.95, 3, 2.05]], [28.8, [3.5, 2.85, 2.15, 1.4, 1.25]], [29.04, [5.18, 4.7, 4.5, 4.35, 3.75, 3.1, 2.55, 1.95]], [29.24, [5.69, 3.55, 2.9, 2.3]], [29.4, [3.55, 2.95]]
];
// the packed middle of panel c, inside the ribbon and the cloud just above it
const cDense = [
    [19, [1.55, 1.85, 2.15, 2.45, 2.75, 3.05, 3.35, 3.65, 3.95, 4.25]], [19.25, [1.45, 1.75, 2.05, 2.35, 2.65, 2.95, 3.25, 3.55, 3.85, 4.15]], [19.5, [1.5, 1.8, 2.1, 2.4, 2.7, 3, 3.3, 3.6, 3.9, 4.2]],
    [19.8, [1.45, 1.95, 2.3, 2.85, 3.25, 3.75]], [20.1, [1.6, 2.05, 2.5, 3.05, 3.7]], [20.3, [1.4, 2.3, 2.7, 3.2]], [20.6, [1.5, 1.95, 2.45, 3.3, 3.7]], [20.8, [1.3, 1.85, 2.7, 3.5, 4.4]], [21.1, [1.5, 2, 2.75, 3.2, 3.75, 4.6]],
    [21.3, [1.35, 2.2, 2.6, 3.65, 4.1, 4.8]], [21.5, [1.55, 2.3, 3, 3.4, 4, 4.5]], [21.75, [1.3, 1.85, 2.65, 3.25, 3.75, 4.3, 4.8]], [22, [1.2, 1.6, 2.25, 2.7, 3.45, 4.15, 4.55]], [22.2, [1.25, 2, 2.9, 3.6, 4.05, 4.45]],
    [22.4, [1.15, 1.7, 2.4, 2.95, 3.5, 3.95, 4.5]], [22.55, [1.4, 2.05, 2.65, 3.2, 3.7, 4.05]], [22.72, [1.1, 1.6, 2.2, 2.85, 3.3, 3.85, 4.25, 4.7]], [22.95, [1.1, 1.55, 2.15, 2.55, 3.1, 3.6, 4.05, 4.45, 4.9]], [23.1, [1.3, 1.9, 2.4, 2.85, 3.35, 3.85, 4.4]],
    [23.25, [1.05, 1.5, 2, 2.5, 3, 3.5, 3.9, 5.7, 6]], [23.42, [1.05, 1.45, 1.95, 2.5, 2.95, 3.5, 4, 4.45, 4.9]], [23.55, [0.9, 1.3, 1.75, 2.2, 2.7, 3.2, 3.65, 4.1, 4.5]], [23.78, [0.95, 1.4, 1.85, 2.35, 2.9, 3.4, 3.9, 4.45, 4.85]],
    [23.95, [1.2, 1.65, 2.15, 2.6, 3.1, 3.6, 4.05, 4.55, 5.05]], [24.15, [0.95, 1.4, 1.85, 2.3, 2.75, 3.25, 3.7, 4.15, 4.7, 5.1]], [24.3, [1.1, 1.55, 1.95, 2.4, 2.9, 3.4, 3.85, 4.3, 4.75, 5.2]], [24.42, [0.8, 1.35, 1.8, 2.2, 2.65, 3.1, 3.6, 5.3, 5.55, 5.8]],
    [24.6, [0.9, 1.4, 1.85, 2.3, 2.75, 3.25, 3.7, 5.25, 5.5, 5.75, 6]], [24.72, [1.1, 1.6, 2.1, 2.5, 2.9, 3.4, 3.8, 5.35, 5.6, 5.85]], [24.92, [1.2, 1.65, 2.15, 2.6, 3.1, 3.6, 4.05, 4.55, 5.1, 5.4]],
    [25.1, [1.25, 1.75, 2.2, 2.7, 3.15, 3.65, 4.2, 4.8, 5.35]], [25.3, [1.3, 1.85, 2.35, 2.8, 3.3, 3.8, 4.2, 4.7, 5.15]], [25.5, [1.25, 1.75, 2.3, 2.8, 3.3, 3.8, 4.3, 4.8, 5.3]],
    [25.66, [1.35, 1.95, 2.4, 2.95, 3.5, 3.95, 4.45, 5, 5.5]], [25.8, [1.4, 2, 2.5, 3.1, 3.45, 3.95, 4.5, 5, 5.5, 6, 6.4]], [25.95, [1.3, 1.8, 2.3, 2.85, 3.3, 3.85, 4.25, 4.8, 5.4, 5.75, 6.05, 6.35]],
    [26.15, [1.15, 1.6, 2.05, 2.5, 3, 3.5, 3.95, 4.4, 4.9, 5.35]], [26.3, [1, 1.45, 1.95, 2.4, 2.9, 3.35, 3.85, 4.3, 4.8]], [26.5, [1.1, 1.5, 2.1, 2.6, 3.1, 3.6, 4.1, 4.6, 5.2]],
    [26.7, [1.05, 1.65, 2.2, 2.75, 3.2, 3.7, 4.15, 4.6, 5.05]], [26.95, [1.1, 1.5, 2.2, 2.7, 3.35, 3.85, 4.35, 4.75]], [27.2, [1.35, 1.9, 2.6, 3.15, 3.75, 4.3, 4.75]], [27.45, [1.5, 2.25, 2.85, 3.4, 3.95, 4.5, 5]],
    [27.7, [1.4, 2.05, 2.5, 3, 3.5, 4]], [27.85, [1.3, 1.9, 2.45, 2.9, 3.35, 3.85, 4.65, 5.1]], [28, [1.2, 1.85, 2.35, 2.85, 3.25, 3.7, 4.5]], [28.25, [1.2, 2.1, 2.7, 3.1, 3.7, 4.35]], [28.5, [1.5, 2.35, 2.65, 3.3, 3.8]],
    [28.75, [1.7, 2.5, 3.15, 3.75]], [29, [1.55, 2.15, 2.85, 3.35]], [29.2, [1.9, 2.6, 3.25]]
];

const PANEL_TOP = 47;
const PANEL_BOTTOM = 496;
const COLOR_POINT = '#440154';
const COLOR_RIBBON = '#21908c';
const COLOR_GRID = '#ebebeb';
const COLOR_BORDER = '#333333';
const COLOR_TICK_TEXT = '#4d4d4d';

const svg = d3.select('#chart');

function drawPanel(cfg) {
    const x = d3.scaleLinear().domain(cfg.xDomain).range([cfg.left, cfg.right]);
    const y = d3.scaleLinear().domain(cfg.yDomain).range([PANEL_BOTTOM, PANEL_TOP]);
    const g = svg.append('g');

    // grid
    g.selectAll('.x-minor').data(xMinor).join('line')
        .attr('x1', d => x(d)).attr('x2', d => x(d))
        .attr('y1', PANEL_TOP).attr('y2', PANEL_BOTTOM)
        .attr('stroke', COLOR_GRID).attr('stroke-width', 1);
    g.selectAll('.x-major').data(xTicks).join('line')
        .attr('x1', d => x(d)).attr('x2', d => x(d))
        .attr('y1', PANEL_TOP).attr('y2', PANEL_BOTTOM)
        .attr('stroke', COLOR_GRID).attr('stroke-width', 2);
    g.selectAll('.y-minor').data(cfg.yMinor).join('line')
        .attr('x1', cfg.left).attr('x2', cfg.right)
        .attr('y1', d => y(d)).attr('y2', d => y(d))
        .attr('stroke', COLOR_GRID).attr('stroke-width', 1);
    g.selectAll('.y-major').data(cfg.yTicks).join('line')
        .attr('x1', cfg.left).attr('x2', cfg.right)
        .attr('y1', d => y(d)).attr('y2', d => y(d))
        .attr('stroke', COLOR_GRID).attr('stroke-width', 2);

    // points - the dense columns stand for heavily overplotted spots, so the
    // busy stretches of x (left edge and the middle) get a darker fill
    const flat = cfg.points.map(col => ({ col: col, op: 0.5 }))
        .concat(cfg.dense.map(col => ({
            col: col,
            op: (col[0] < 19.8 || (col[0] > 21.5 && col[0] < 27.6)) ? 0.8 : 0.5
        })))
        .flatMap(c => c.col[1].map(v => ({ x: c.col[0], y: v, op: c.op })));
    g.selectAll('circle').data(flat).join('circle')
        .attr('cx', d => x(d.x))
        .attr('cy', d => y(d.y))
        .attr('r', 4.2)
        .attr('fill', COLOR_POINT)
        .attr('fill-opacity', d => d.op);

    // ribbon + fit line
    const curve = d3.curveCatmullRom.alpha(0.5);
    const area = d3.area().curve(curve)
        .x((d, i) => x(cfg.ribbonX[i]))
        .y0((d, i) => y(cfg.lower[i]))
        .y1((d, i) => y(cfg.upper[i]));
    g.append('path').attr('d', area(cfg.ribbonX))
        .attr('fill', COLOR_RIBBON).attr('fill-opacity', 0.72);

    const line = d3.line().curve(curve)
        .x((d, i) => x(cfg.ribbonX[i]))
        .y((d, i) => y(cfg.mid[i]));
    g.append('path').attr('d', line(cfg.ribbonX))
        .attr('fill', 'none').attr('stroke', '#000').attr('stroke-width', 5);

    // border
    g.append('rect')
        .attr('x', cfg.left).attr('y', PANEL_TOP)
        .attr('width', cfg.right - cfg.left).attr('height', PANEL_BOTTOM - PANEL_TOP)
        .attr('fill', 'none').attr('stroke', COLOR_BORDER).attr('stroke-width', 1.6);

    // axes
    const xAxis = g.append('g')
        .attr('transform', 'translate(0,' + PANEL_BOTTOM + ')')
        .call(d3.axisBottom(x).tickValues(xTicks).tickFormat(d => d).tickSize(5).tickPadding(5));
    const yAxis = g.append('g')
        .attr('transform', 'translate(' + cfg.left + ',0)')
        .call(d3.axisLeft(y).tickValues(cfg.yTicks).tickFormat(d => d.toFixed(2)).tickSize(5).tickPadding(0));
    xAxis.select('.domain').remove();
    yAxis.select('.domain').remove();
    g.selectAll('.tick line').attr('stroke', COLOR_BORDER).attr('stroke-width', 1.2);
    xAxis.selectAll('text')
        .attr('fill', COLOR_TICK_TEXT)
        .attr('font-size', 17)
        .attr('font-family', '"Liberation Sans", Arial, sans-serif');
    yAxis.selectAll('text')
        .attr('fill', COLOR_TICK_TEXT)
        .attr('font-size', 17)
        .attr('font-family', '"Liberation Sans", Arial, sans-serif')
        .attr('text-anchor', 'middle')
        .attr('dy', 0)
        .attr('x', 0)
        .attr('transform', 'translate(-11.5,0) rotate(-90)');

    // titles
    g.append('text').text(cfg.label)
        .attr('x', cfg.left).attr('y', 29)
        .attr('font-size', 29).attr('font-weight', 'bold').attr('fill', '#000');
    g.append('text').text('Air temperature (Celsius)')
        .attr('x', (cfg.left + cfg.right) / 2).attr('y', 544)
        .attr('text-anchor', 'middle')
        .attr('font-size', 24).attr('font-weight', 'bold').attr('fill', '#000');
    g.append('text').text(cfg.yTitle)
        .attr('text-anchor', 'middle')
        .attr('transform', 'translate(' + cfg.yTitleX + ',' + ((PANEL_TOP + PANEL_BOTTOM) / 2) + ') rotate(-90)')
        .attr('font-size', 24).attr('font-weight', 'bold').attr('fill', '#000');
}

drawPanel({
    label: 'a', yTitle: 'Recovery time', yTitleX: 29, left: 65, right: 366,
    xDomain: [18.36, 29.98], yDomain: [-16.06, 31.3],
    yTicks: aTicks, yMinor: aMinor, points: aPoints, dense: aDense,
    ribbonX: aRibbonX, upper: aUpper, mid: aMid, lower: aLower
});
drawPanel({
    label: 'b', yTitle: 'Voiced FM', yTitleX: 405, left: 456.3, right: 743.3,
    xDomain: [18.34, 29.97], yDomain: [-1.65, 7.67],
    yTicks: bTicks, yMinor: bMinor, points: bPoints, dense: bDense,
    ribbonX: bRibbonX, upper: bUpper, mid: bMid, lower: bLower
});
drawPanel({
    label: 'c', yTitle: 'Unvoiced FM', yTitleX: 783, left: 833.3, right: 1120,
    xDomain: [18.33, 29.95], yDomain: [-3.05, 10.97],
    yTicks: cTicks, yMinor: cMinor, points: cPoints, dense: cDense,
    ribbonX: cRibbonX, upper: cUpper, mid: cMid, lower: cLower
});
</script>
</body>
</html>
